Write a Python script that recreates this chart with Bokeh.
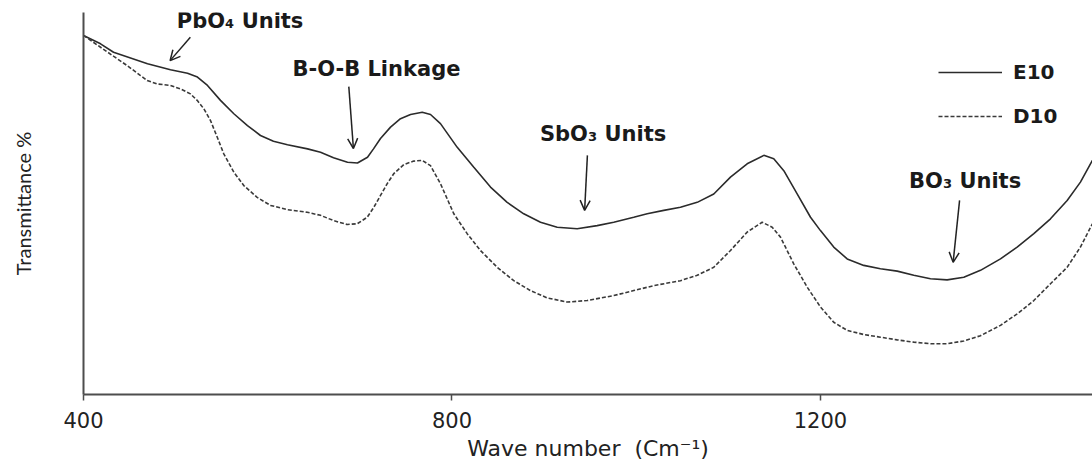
from bokeh.plotting import figure
from bokeh.models import Label, Arrow, OpenHead, Legend, LegendItem, FixedTicker, Range1d
from bokeh.embed import file_html
from bokeh.resources import INLINE

# ---- data ----
wn_e10 = [400, 418.5, 432.6, 469.5, 494.4, 512.9, 523.7, 534.6, 548.7, 563.2, 578.0, 592.1,
          606.2, 621.4, 643.2, 657.3, 671.4, 686.6, 697.4, 708.3, 714.8, 722.4, 733.3, 744.1,
          755.0, 767.7, 776.7, 787.5, 805.7, 823.7, 841.8, 859.9, 877.9, 896.1, 914.2, 935.9,
          957.6, 975.6, 997.3, 1011.9, 1029.9, 1048.0, 1066.2, 1084.2, 1102.3, 1120.4, 1138.5,
          1149.3, 1160.2, 1174.7, 1189.2, 1200.0, 1214.4, 1229.0, 1247.0, 1265.1, 1283.3,
          1301.3, 1319.4, 1337.5, 1355.6, 1373.7, 1395.4, 1413.5, 1431.6, 1449.7, 1467.8,
          1482.2, 1495.2]
t_e10 = [94.0, 91.8, 89.6, 86.6, 85.0, 84.1, 83.1, 80.9, 77.0, 73.5, 70.4, 67.8,
         66.3, 65.4, 64.3, 63.4, 62.0, 60.8, 60.6, 62.1, 64.3, 67.0, 70.0, 72.2,
         73.3, 73.9, 73.3, 70.9, 64.7, 59.5, 54.3, 50.3, 47.3, 45.1, 43.8, 43.4,
         44.2, 45.1, 46.4, 47.3, 48.2, 49.0, 50.3, 52.5, 56.9, 60.4, 62.6,
         61.7, 58.6, 52.5, 46.4, 42.9, 38.6, 35.5, 33.8, 32.9, 32.3,
         31.2, 30.3, 30.0, 30.7, 32.5, 35.5, 38.6, 42.1, 46.0, 50.8,
         55.6, 61.3]

wn_d10 = [400, 418.5, 432.9, 447.4, 461.9, 469.1, 480.0, 494.4, 505.3, 516.1, 523.4, 530.6,
          537.9, 545.1, 552.3, 563.2, 574.0, 588.5, 603.0, 621.1, 642.8, 657.3, 671.7, 686.2,
          697.1, 708.0, 715.1, 722.4, 729.7, 736.8, 747.7, 758.5, 767.7, 776.7, 787.5, 802.0,
          816.5, 830.9, 849.1, 867.1, 885.2, 903.3, 925.1, 946.8, 975.6, 997.3, 1019.1, 1048.0,
          1066.2, 1084.2, 1102.3, 1120.4, 1136.7, 1147.6, 1156.6, 1171.0, 1185.6, 1200.0,
          1214.4, 1229.0, 1247.0, 1265.1, 1283.3, 1301.3, 1319.4, 1337.5, 1355.6, 1373.7,
          1395.4, 1413.5, 1431.6, 1449.7, 1467.8, 1482.2, 1495.2]
t_d10 = [94.0, 90.9, 88.5, 86.1, 83.5, 82.2, 81.3, 80.9, 80.0, 78.7, 77.0, 74.8,
         71.7, 67.4, 63.0, 58.2, 54.7, 51.6, 49.5, 48.4, 47.7, 46.9, 45.5, 44.5,
         44.7, 46.4, 49.0, 52.1, 55.2, 57.8, 60.2, 61.1, 61.3, 59.9, 55.2, 47.3,
         42.1, 37.7, 33.3, 29.8, 27.2, 25.3, 24.2, 24.6, 25.9, 27.2, 28.5, 29.8,
         31.2, 33.3, 37.7, 42.5, 45.1, 43.8, 41.2, 34.2, 28.1, 22.9,
         18.9, 16.8, 15.7, 15.0, 14.3, 13.7, 13.3, 13.3, 14.0, 15.4,
         18.1, 21.1, 24.6, 29.0, 33.3, 38.6, 44.7]

x_ticks = [400, 800, 1200]
series_names = ["E10", "D10"]

ann_text = ["PbO\u2084 Units", "B-O-B Linkage", "SbO\u2083 Units", "BO\u2083 Units"]
ann_x = [570, 718, 964, 1357]
ann_y = [97.9, 85.1, 68.3, 56.0]
arr_x0 = [516, 688, 947, 1351]
arr_y0 = [93.5, 80.6, 62.6, 50.8]
arr_x1 = [494, 693, 944, 1344]
arr_y1 = [87.4, 64.4, 48.2, 34.6]

# ---- figure ----
p = figure(width=1092, height=465, output_backend="svg", toolbar_location=None,
           x_range=Range1d(400, 1495.3), y_range=Range1d(0, 100),
           min_border_left=83, min_border_right=0, min_border_top=12, min_border_bottom=71)
p.background_fill_color = "white"
p.border_fill_color = "white"
p.outline_line_color = None
p.grid.visible = False

axis_col = "#4d4d4d"
p.xaxis.ticker = FixedTicker(ticks=x_ticks)
p.xaxis.axis_line_color = axis_col
p.xaxis.axis_line_width = 2
p.xaxis.major_tick_line_color = axis_col
p.xaxis.major_tick_line_width = 1.5
p.xaxis.major_tick_out = 6
p.xaxis.major_tick_in = 0
p.xaxis.minor_tick_line_color = None
p.xaxis.major_label_text_font = "DejaVu Sans"
p.xaxis.major_label_text_font_size = "21px"
p.xaxis.major_label_text_color = "#222222"
p.xaxis.major_label_standoff = 11
p.xaxis.axis_label = "Wave number\u00a0\u00a0(Cm\u207b\u00b9)"
p.xaxis.axis_label_text_font = "DejaVu Sans"
p.xaxis.axis_label_text_font_size = "22px"
p.xaxis.axis_label_text_font_style = "normal"
p.xaxis.axis_label_text_color = "#222222"
p.xaxis.axis_label_standoff = 5

p.yaxis.ticker = FixedTicker(ticks=[])
p.yaxis.axis_line_color = axis_col
p.yaxis.axis_line_width = 2
p.yaxis.major_tick_line_color = None
p.yaxis.minor_tick_line_color = None
p.yaxis.major_label_text_font_size = "0px"
p.yaxis.axis_label = "Transmittance %"
p.yaxis.axis_label_text_font = "Lato"
p.yaxis.axis_label_text_font_size = "20px"
p.yaxis.axis_label_text_font_style = "normal"
p.yaxis.axis_label_text_color = "#222222"
p.yaxis.axis_label_standoff = 49

r_e = p.line(wn_e10, t_e10, line_color="#2b2b2b", line_width=1.6)
r_d = p.line(wn_d10, t_d10, line_color="#3a3a3a", line_width=1.6, line_dash="4 2")

for txt, x, y in zip(ann_text, ann_x, ann_y):
    p.add_layout(Label(x=x, y=y, text=txt, text_font="DejaVu Sans", text_font_style="bold",
                       text_font_size="21px", text_color="#1a1a1a",
                       text_align="center", text_baseline="middle"))

for x0, y0, x1, y1 in zip(arr_x0, arr_y0, arr_x1, arr_y1):
    p.add_layout(Arrow(end=OpenHead(size=10, line_width=1.5, line_color="#222222"),
                       x_start=x0, y_start=y0, x_end=x1, y_end=y1,
                       line_width=1.5, line_color="#222222"))

legend = Legend(items=[LegendItem(label=series_names[0], renderers=[r_e]),
                       LegendItem(label=series_names[1], renderers=[r_d])],
                location=(855, 266), padding=0, margin=0, spacing=20,
                glyph_width=64, glyph_height=20, label_height=20, label_standoff=11,
                label_text_font="DejaVu Sans", label_text_font_style="bold",
                label_text_font_size="20px", label_text_color="#1a1a1a",
                border_line_color=None, background_fill_alpha=0)
p.add_layout(legend, "center")

open("out.html", "w").write(file_html(p, INLINE))
